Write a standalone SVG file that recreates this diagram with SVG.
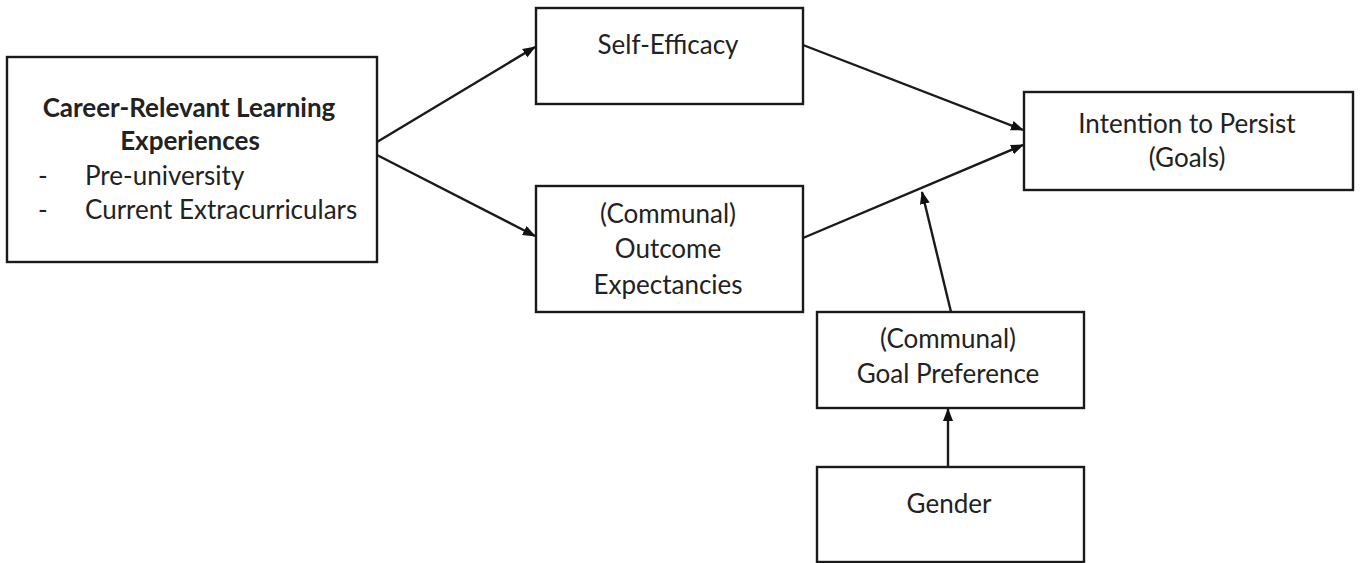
<svg xmlns="http://www.w3.org/2000/svg" width="1363" height="563" viewBox="0 0 1363 563">
<style>
.box{fill:#fff;stroke:#1a1a1a;stroke-width:2.4}
text{font-family:Lato,"Liberation Sans",sans-serif;font-size:26px;fill:#222}
.c{text-anchor:middle}
.b{font-weight:bold}
.edge{stroke:#1a1a1a;stroke-width:2.4;fill:none;marker-end:url(#ah)}
</style>
<defs>
<marker id="ah" viewBox="0 0 13 10" refX="12" refY="5" markerWidth="13" markerHeight="10" markerUnits="userSpaceOnUse" orient="auto">
<path d="M0,0 L13,5 L0,10 z" fill="#111"/>
</marker>
</defs>
<rect width="1363" height="563" fill="#fff"/>
<g id="crle">
<rect class="box" x="7" y="57" width="370" height="205"/>
<text class="c b" x="189" y="117">Career-Relevant Learning</text>
<text class="c b" x="190" y="150">Experiences</text>
<text x="38" y="185">-</text>
<text x="85" y="185">Pre-university</text>
<text x="38" y="219">-</text>
<text x="85" y="219">Current Extracurriculars</text>
</g>
<g id="selfefficacy">
<rect class="box" x="536" y="8" width="267" height="96"/>
<text class="c" x="668" y="54">Self-Efficacy</text>
</g>
<g id="outcome">
<rect class="box" x="536" y="186" width="267" height="126"/>
<text class="c" x="668" y="223">(Communal)</text>
<text class="c" x="668" y="258">Outcome</text>
<text class="c" x="668" y="294">Expectancies</text>
</g>
<g id="intention">
<rect class="box" x="1024" y="92" width="329" height="98"/>
<text class="c" x="1187" y="133">Intention to Persist</text>
<text class="c" x="1187" y="167">(Goals)</text>
</g>
<g id="goalpref">
<rect class="box" x="817" y="312" width="267" height="96"/>
<text class="c" x="948" y="348">(Communal)</text>
<text class="c" x="948" y="383">Goal Preference</text>
</g>
<g id="gender">
<rect class="box" x="817" y="467" width="267" height="95"/>
<text class="c" x="949" y="513">Gender</text>
</g>
<g id="connectors">
<line class="edge" x1="377" y1="142" x2="535" y2="47"/>
<line class="edge" x1="377" y1="155" x2="535" y2="236"/>
<line class="edge" x1="803" y1="45" x2="1023" y2="130"/>
<line class="edge" x1="803" y1="238" x2="1023" y2="145"/>
<line class="edge" x1="951" y1="312" x2="922" y2="192"/>
<line class="edge" x1="948" y1="467" x2="948" y2="409"/>
</g>
</svg>
